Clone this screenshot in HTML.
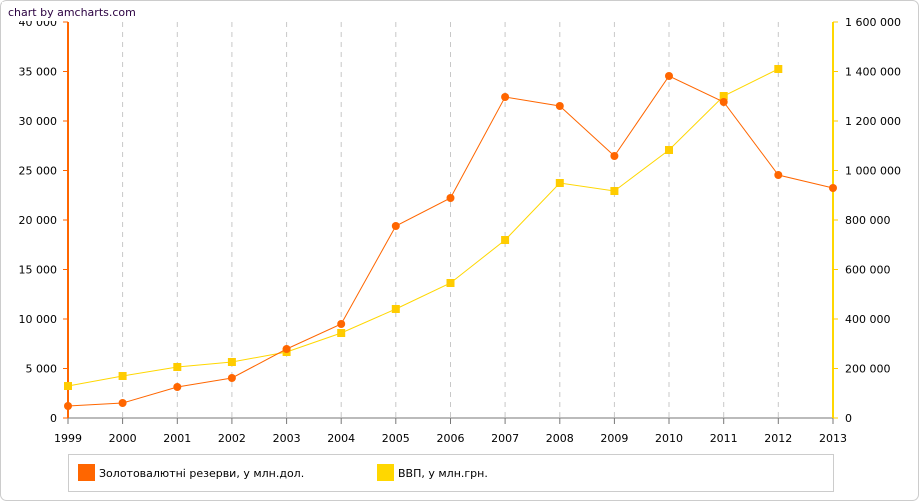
<!DOCTYPE html><html><head><meta charset="utf-8"><style>body{margin:0;background:#fff}svg{display:block;font-family:Verdana,"DejaVu Sans","Liberation Sans",sans-serif;font-size:11px}</style></head><body>
<svg width="919" height="501" xmlns="http://www.w3.org/2000/svg">
<rect x="0.5" y="0.5" width="918" height="500" rx="6" fill="#fff" stroke="#ccc"/>
<g stroke="#c8c8c8" stroke-dasharray="5,5">
<line x1="122.6" y1="22" x2="122.6" y2="418"/><line x1="177.3" y1="22" x2="177.3" y2="418"/><line x1="231.9" y1="22" x2="231.9" y2="418"/><line x1="286.6" y1="22" x2="286.6" y2="418"/><line x1="341.2" y1="22" x2="341.2" y2="418"/><line x1="395.8" y1="22" x2="395.8" y2="418"/><line x1="450.5" y1="22" x2="450.5" y2="418"/><line x1="505.1" y1="22" x2="505.1" y2="418"/><line x1="559.8" y1="22" x2="559.8" y2="418"/><line x1="614.4" y1="22" x2="614.4" y2="418"/><line x1="669" y1="22" x2="669" y2="418"/><line x1="723.7" y1="22" x2="723.7" y2="418"/><line x1="778.3" y1="22" x2="778.3" y2="418"/>
</g>
<line x1="68" y1="418" x2="833" y2="418" stroke="#777"/>
<g stroke="#777">
<line x1="68" y1="418" x2="68" y2="424"/><line x1="122.6" y1="418" x2="122.6" y2="424"/><line x1="177.3" y1="418" x2="177.3" y2="424"/><line x1="231.9" y1="418" x2="231.9" y2="424"/><line x1="286.6" y1="418" x2="286.6" y2="424"/><line x1="341.2" y1="418" x2="341.2" y2="424"/><line x1="395.8" y1="418" x2="395.8" y2="424"/><line x1="450.5" y1="418" x2="450.5" y2="424"/><line x1="505.1" y1="418" x2="505.1" y2="424"/><line x1="559.8" y1="418" x2="559.8" y2="424"/><line x1="614.4" y1="418" x2="614.4" y2="424"/><line x1="669" y1="418" x2="669" y2="424"/><line x1="723.7" y1="418" x2="723.7" y2="424"/><line x1="778.3" y1="418" x2="778.3" y2="424"/><line x1="833" y1="418" x2="833" y2="424"/>
</g>
<g fill="#000" text-anchor="middle">
<text x="68" y="442">1999</text><text x="122.6" y="442">2000</text><text x="177.3" y="442">2001</text><text x="231.9" y="442">2002</text><text x="286.6" y="442">2003</text><text x="341.2" y="442">2004</text><text x="395.8" y="442">2005</text><text x="450.5" y="442">2006</text><text x="505.1" y="442">2007</text><text x="559.8" y="442">2008</text><text x="614.4" y="442">2009</text><text x="669" y="442">2010</text><text x="723.7" y="442">2011</text><text x="778.3" y="442">2012</text><text x="833" y="442">2013</text>
</g>
<line x1="68" y1="22" x2="68" y2="418" stroke="#ff6600" stroke-width="2"/>
<g stroke="#ff6600"><line x1="63" y1="22" x2="68" y2="22"/><line x1="63" y1="71.5" x2="68" y2="71.5"/><line x1="63" y1="121" x2="68" y2="121"/><line x1="63" y1="170.5" x2="68" y2="170.5"/><line x1="63" y1="220" x2="68" y2="220"/><line x1="63" y1="269.5" x2="68" y2="269.5"/><line x1="63" y1="319" x2="68" y2="319"/><line x1="63" y1="368.5" x2="68" y2="368.5"/><line x1="63" y1="418" x2="68" y2="418"/></g>
<g fill="#000" text-anchor="end">
<text x="57" y="26">40 000</text><text x="57" y="75.5">35 000</text><text x="57" y="125">30 000</text><text x="57" y="174.5">25 000</text><text x="57" y="224">20 000</text><text x="57" y="273.5">15 000</text><text x="57" y="323">10 000</text><text x="57" y="372.5">5 000</text><text x="57" y="422">0</text>
</g>
<line x1="833" y1="22" x2="833" y2="418" stroke="#ffd700" stroke-width="2"/>
<g stroke="#ffcc00"><line x1="833" y1="22" x2="838" y2="22"/><line x1="833" y1="71.5" x2="838" y2="71.5"/><line x1="833" y1="121" x2="838" y2="121"/><line x1="833" y1="170.5" x2="838" y2="170.5"/><line x1="833" y1="220" x2="838" y2="220"/><line x1="833" y1="269.5" x2="838" y2="269.5"/><line x1="833" y1="319" x2="838" y2="319"/><line x1="833" y1="368.5" x2="838" y2="368.5"/><line x1="833" y1="418" x2="838" y2="418"/></g>
<g fill="#000">
<text x="845" y="26">1 600 000</text><text x="845" y="75.5">1 400 000</text><text x="845" y="125">1 200 000</text><text x="845" y="174.5">1 000 000</text><text x="845" y="224">800 000</text><text x="845" y="273.5">600 000</text><text x="845" y="323">400 000</text><text x="845" y="372.5">200 000</text><text x="845" y="422">0</text>
</g>
<polyline fill="none" stroke="#ffd700" points="68,386 122.6,376 177.3,367 231.9,362 286.6,352 341.2,333 395.8,309 450.5,283 505.1,240 559.8,183 614.4,191 669,150 723.7,96 778.3,69"/>
<g fill="#ffcc00"><rect x="64" y="382" width="8" height="8"/><rect x="118.6" y="372" width="8" height="8"/><rect x="173.3" y="363" width="8" height="8"/><rect x="227.9" y="358" width="8" height="8"/><rect x="282.6" y="348" width="8" height="8"/><rect x="337.2" y="329" width="8" height="8"/><rect x="391.8" y="305" width="8" height="8"/><rect x="446.5" y="279" width="8" height="8"/><rect x="501.1" y="236" width="8" height="8"/><rect x="555.8" y="179" width="8" height="8"/><rect x="610.4" y="187" width="8" height="8"/><rect x="665" y="146" width="8" height="8"/><rect x="719.7" y="92" width="8" height="8"/><rect x="774.3" y="65" width="8" height="8"/></g>
<polyline fill="none" stroke="#ff6600" points="68,406 122.6,403 177.3,387 231.9,378 286.6,349 341.2,324 395.8,226 450.5,198 505.1,97 559.8,106 614.4,156 669,76 723.7,102 778.3,175 833,188"/>
<g fill="#ff6600"><circle cx="68" cy="406" r="4"/><circle cx="122.6" cy="403" r="4"/><circle cx="177.3" cy="387" r="4"/><circle cx="231.9" cy="378" r="4"/><circle cx="286.6" cy="349" r="4"/><circle cx="341.2" cy="324" r="4"/><circle cx="395.8" cy="226" r="4"/><circle cx="450.5" cy="198" r="4"/><circle cx="505.1" cy="97" r="4"/><circle cx="559.8" cy="106" r="4"/><circle cx="614.4" cy="156" r="4"/><circle cx="669" cy="76" r="4"/><circle cx="723.7" cy="102" r="4"/><circle cx="778.3" cy="175" r="4"/><circle cx="833" cy="188" r="4"/></g>
<rect x="2" y="2" width="140" height="19" fill="#fff"/>
<text x="8" y="16" fill="#2a0040">chart by amcharts.com</text>
<rect x="68.5" y="454.5" width="765" height="37" fill="#fff" stroke="#ccc"/>
<rect x="78" y="464" width="17" height="17" fill="#ff6600"/>
<text x="99" y="477" fill="#000">Золотовалютні резерви, у млн.дол.</text>
<rect x="377" y="464" width="17" height="17" fill="#ffd700"/>
<text x="398" y="477" fill="#000">ВВП, у млн.грн.</text>
</svg></body></html>
